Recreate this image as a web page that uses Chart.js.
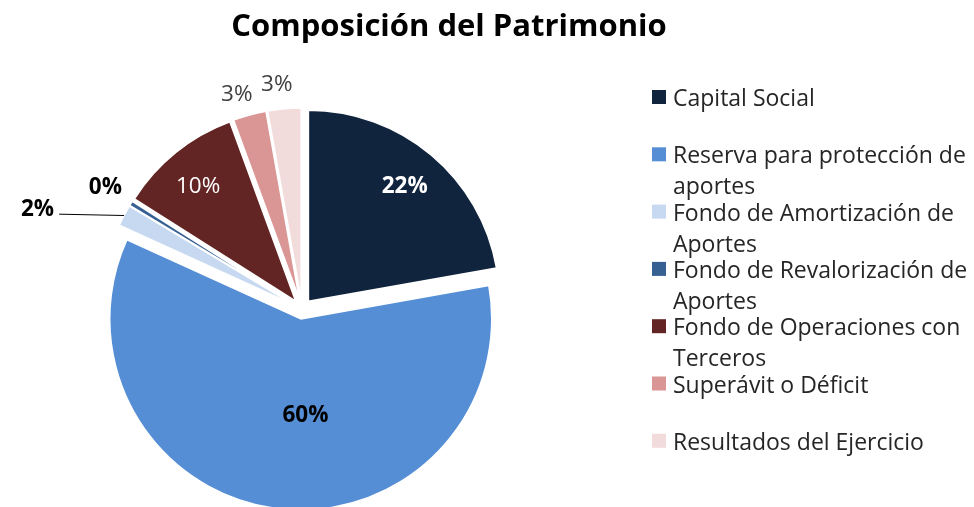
<!DOCTYPE html>
<html lang="es">
<head>
<meta charset="utf-8">
<title>Composición del Patrimonio</title>
<script src="https://cdn.jsdelivr.net/npm/chart.js@4.4.0/dist/chart.umd.min.js"></script>
<style>
  html, body { margin: 0; padding: 0; background: #ffffff; }
  .chart-container { position: relative; width: 974px; height: 507px; }
</style>
</head>
<body>
<div class="chart-container"><canvas id="chart"></canvas></div>
<script>
// --- Data ---
const TITLE = 'Composición del Patrimonio';
const CATEGORIES = [
    'Capital Social',
    'Reserva para protección de aportes',
    'Fondo de Amortización de Aportes',
    'Fondo de Revalorización de Aportes',
    'Fondo de Operaciones con Terceros',
    'Superávit o Déficit',
    'Resultados del Ejercicio'
];
const VALUES = [22.2, 59.6, 1.8, 0.4, 10.4, 2.8, 2.8]; // % of total
const SLICE_COLORS = ['#10243E', '#558ED5', '#C6D9F1', '#376092', '#632523', '#D99694', '#F2DCDB'];

// --- Look ---
const FONT = '"Open Sans", Carlito, Calibri, sans-serif';
const EXPLODE = 10;       // px each slice is pulled out
const PIE_RADIUS = 191;
// where each percentage label sits: fraction of radius, angle nudge (deg)
const LABEL_STYLE = [
    { r: 0.785, turn: 0,    bold: true,  color: '#FFFFFF' },
    { r: 0.505, turn: -10,  bold: true,  color: '#000000' },
    { r: 1.428, turn: -7.3, bold: true,  color: '#000000', leader: true },
    { r: 1.157, turn: 0,    bold: true,  color: '#000000' },
    { r: 0.787, turn: -1.6, bold: false, color: '#FFFFFF' },
    { r: 1.119, turn: -1.9, bold: false, color: '#404040' },
    { r: 1.128, turn: -1.45, bold: false, color: '#404040' }
];

// Excel-style explosion: shift every slice along its bisector without growing it
const arcDraw = Chart.ArcElement.prototype.draw;
Chart.ArcElement.prototype.draw = function (ctx) {
    const mid = (this.startAngle + this.endAngle) / 2;
    ctx.save();
    ctx.translate(Math.cos(mid) * EXPLODE, Math.sin(mid) * EXPLODE);
    arcDraw.call(this, ctx);
    ctx.restore();
};

function wrapText(ctx, text, maxWidth) {
    const lines = [];
    let line = '';
    text.split(' ').forEach(word => {
        const test = line ? line + ' ' + word : word;
        if (line && ctx.measureText(test).width > maxWidth) { lines.push(line); line = word; }
        else line = test;
    });
    lines.push(line);
    return lines;
}

const patrimonioPlugin = {
    id: 'patrimonio',
    afterDatasetsDraw(chart) {
        const ctx = chart.ctx;
        const arcs = chart.getDatasetMeta(0).data;
        const total = VALUES.reduce((a, b) => a + b, 0);
        ctx.save();
        ctx.textAlign = 'center';
        ctx.textBaseline = 'middle';
        arcs.forEach((arc, i) => {
            const st = LABEL_STYLE[i];
            const mid = (arc.startAngle + arc.endAngle) / 2;
            const cx = arc.x + Math.cos(mid) * EXPLODE;
            const cy = arc.y + Math.sin(mid) * EXPLODE;
            const ang = mid + st.turn * Math.PI / 180;
            const lx = cx + Math.cos(ang) * arc.outerRadius * st.r;
            const ly = cy + Math.sin(ang) * arc.outerRadius * st.r;
            const text = Math.round(VALUES[i] / total * 100) + '%';
            ctx.font = (st.bold ? 'bold ' : '') + '22.5px ' + FONT;
            ctx.fillStyle = st.color;
            ctx.fillText(text, lx, ly);
            if (st.leader) {
                const w = ctx.measureText(text).width;
                ctx.beginPath();
                ctx.moveTo(cx + Math.cos(mid) * arc.outerRadius, cy + Math.sin(mid) * arc.outerRadius);
                ctx.lineTo(lx + w / 2 + 5, ly + 5);
                ctx.strokeStyle = '#000000';
                ctx.lineWidth = 1;
                ctx.stroke();
            }
        });
        ctx.restore();
    },
    afterDraw(chart) {
        const ctx = chart.ctx;
        ctx.save();
        // title
        ctx.font = 'bold 31px ' + FONT;
        ctx.fillStyle = '#000000';
        ctx.textAlign = 'center';
        ctx.textBaseline = 'alphabetic';
        ctx.fillText(TITLE, 449, 36);
        // legend
        ctx.font = '23px ' + FONT;
        ctx.textAlign = 'left';
        CATEGORIES.forEach((name, i) => {
            const base = 106 + i * 57.3;
            ctx.fillStyle = SLICE_COLORS[i];
            ctx.fillRect(652, base - 16, 14, 14);
            ctx.fillStyle = '#262626';
            wrapText(ctx, name, 301).forEach((line, j) => ctx.fillText(line, 673, base + j * 31));
        });
        ctx.restore();
    }
};

new Chart(document.getElementById('chart'), {
    type: 'pie',
    data: {
        labels: CATEGORIES,
        datasets: [{
            data: VALUES,
            backgroundColor: SLICE_COLORS,
            borderColor: '#FFFFFF',
            borderWidth: 1.5,
            radius: PIE_RADIUS,
            clip: false
        }]
    },
    options: {
        responsive: true,
        maintainAspectRatio: false,
        animation: false,
        events: [],
        layout: { padding: { left: 102, right: 472, top: 120, bottom: 9 } },
        plugins: {
            legend: { display: false },
            title: { display: false },
            tooltip: { enabled: false }
        }
    },
    plugins: [patrimonioPlugin]
});
</script>
</body>
</html>
